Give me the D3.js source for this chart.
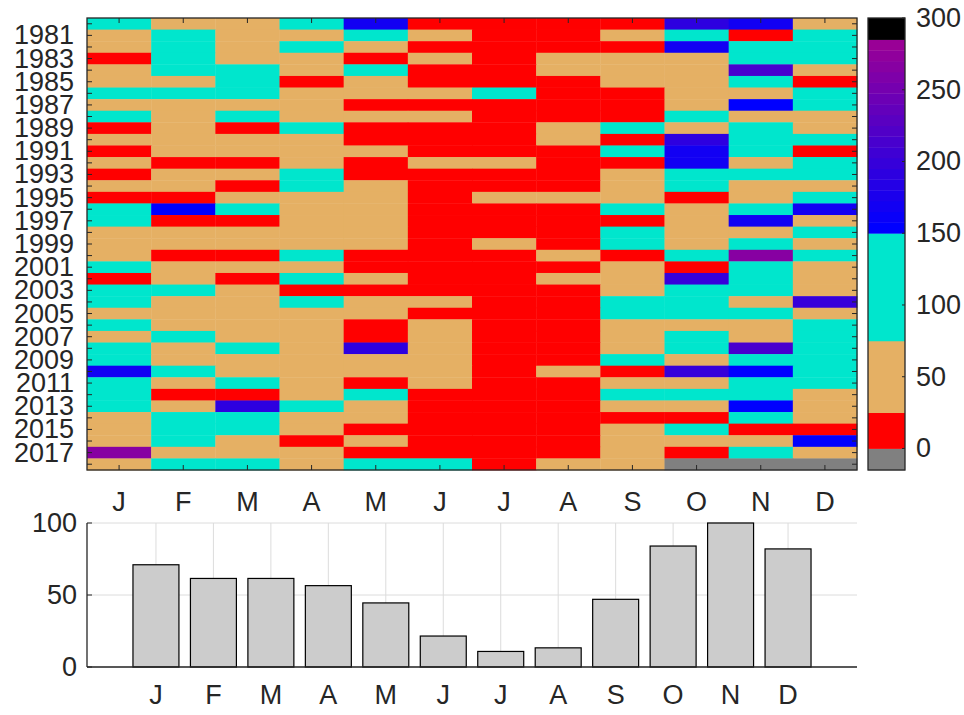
<!DOCTYPE html>
<html>
<head>
<meta charset="utf-8">
<script src="https://cdn.jsdelivr.net/npm/d3@7"></script>
<style>
  html, body { margin: 0; padding: 0; background: #fff; }
  svg { display: block; }
  text { font-family: "Liberation Sans", Arial, Helvetica, sans-serif; fill: #262626; }
</style>
</head>
<body>
<svg id="chart" width="964" height="715"></svg>
<script>
// Monthly rainfall per year (mm), January..December; null = no record
const years = d3.range(1980, 2019);
const months = ["J", "F", "M", "A", "M", "J", "J", "A", "S", "O", "N", "D"];
const yearLabels = [1981, 1983, 1985, 1987, 1989, 1991, 1993, 1995, 1997, 1999,
  2001, 2003, 2005, 2007, 2009, 2011, 2013, 2015, 2017];
const rainfall = [
  [110, 50, 50, 110, 168, 12, 12, 12, 12, 190, 168, 50],   // 1980
  [50, 110, 50, 50, 110, 50, 12, 12, 50, 110, 12, 110],    // 1981
  [50, 110, 50, 110, 50, 12, 12, 12, 12, 168, 110, 110],   // 1982
  [12, 110, 50, 50, 12, 50, 12, 50, 50, 50, 110, 110],     // 1983
  [50, 110, 110, 50, 110, 12, 12, 50, 50, 50, 215, 50],    // 1984
  [50, 50, 110, 12, 50, 12, 12, 12, 50, 50, 110, 12],      // 1985
  [110, 110, 110, 50, 50, 50, 110, 12, 12, 50, 50, 110],   // 1986
  [50, 50, 50, 50, 12, 12, 12, 12, 12, 50, 155, 110],      // 1987
  [110, 50, 110, 50, 50, 50, 12, 12, 12, 110, 50, 50],     // 1988
  [12, 50, 12, 110, 12, 12, 12, 50, 110, 50, 110, 50],     // 1989
  [50, 50, 50, 50, 12, 12, 12, 50, 12, 190, 110, 110],     // 1990
  [12, 50, 50, 50, 50, 12, 12, 12, 110, 168, 110, 12],     // 1991
  [50, 12, 12, 50, 12, 50, 50, 12, 12, 168, 50, 110],      // 1992
  [12, 50, 50, 110, 12, 12, 12, 12, 50, 110, 110, 110],    // 1993
  [50, 50, 12, 110, 50, 12, 12, 12, 50, 110, 50, 50],      // 1994
  [12, 12, 50, 50, 50, 12, 50, 50, 50, 12, 50, 110],       // 1995
  [110, 155, 110, 50, 50, 12, 12, 12, 110, 50, 110, 168],  // 1996
  [110, 12, 12, 50, 50, 12, 12, 12, 12, 50, 168, 50],      // 1997
  [50, 50, 50, 50, 50, 12, 12, 12, 110, 50, 50, 110],      // 1998
  [50, 50, 50, 50, 50, 12, 50, 12, 110, 50, 110, 50],      // 1999
  [50, 12, 12, 110, 12, 12, 12, 50, 12, 110, 265, 110],    // 2000
  [110, 50, 50, 50, 12, 12, 12, 12, 50, 12, 110, 50],      // 2001
  [12, 50, 12, 110, 50, 12, 12, 50, 50, 200, 110, 50],     // 2002
  [110, 110, 50, 12, 12, 12, 12, 12, 50, 110, 110, 50],    // 2003
  [110, 50, 50, 110, 50, 50, 12, 12, 110, 110, 50, 200],   // 2004
  [50, 50, 50, 50, 50, 12, 12, 12, 110, 110, 110, 50],     // 2005
  [110, 50, 50, 50, 12, 50, 12, 12, 50, 50, 50, 110],      // 2006
  [50, 110, 50, 50, 12, 50, 12, 12, 50, 110, 50, 110],     // 2007
  [110, 50, 110, 50, 190, 50, 12, 12, 50, 110, 215, 110],  // 2008
  [110, 50, 50, 50, 50, 50, 12, 12, 110, 50, 110, 110],    // 2009
  [168, 110, 50, 50, 50, 50, 12, 50, 12, 200, 155, 110],   // 2010
  [110, 50, 110, 50, 12, 50, 12, 12, 50, 50, 110, 110],    // 2011
  [110, 12, 12, 50, 110, 12, 12, 12, 110, 110, 110, 50],   // 2012
  [110, 50, 190, 110, 50, 12, 12, 12, 50, 50, 155, 50],    // 2013
  [50, 110, 110, 50, 50, 12, 12, 12, 12, 12, 110, 50],     // 2014
  [50, 110, 110, 50, 12, 12, 12, 12, 50, 110, 12, 12],     // 2015
  [50, 110, 50, 12, 50, 12, 12, 12, 50, 50, 50, 155],      // 2016
  [265, 50, 50, 50, 12, 12, 12, 12, 50, 12, 110, 50],      // 2017
  [50, 110, 110, 50, 110, 110, 12, 50, 50, null, null, null] // 2018
];
// Mean monthly rainfall (mm)
const monthlyMean = [71, 61.5, 61.5, 56.5, 44.5, 21.5, 10.8, 13.3, 47, 84, 100, 82];
const colorbarTicks = [0, 50, 100, 150, 200, 250, 300];
const barTicks = [0, 50, 100];

const svg = d3.select("#chart");
const FONT = 27;

// ---------- colour levels ----------
const purpleSteps = d3.range(150, 285, 7.5);            // 18 graded bands
const thresholds = [0, 25, 75].concat(purpleSteps, [285]);
const bandColors = purpleSteps.map((v, i) =>
  d3.interpolateRgb("rgb(0,0,255)", "rgb(153,0,150)")(i / (purpleSteps.length - 1)));
const levelColors = ["#808080", "#ff0000", "#e5b064", "#00e6cd"].concat(bandColors, ["#000000"]);
const color = d3.scaleThreshold().domain(thresholds).range(levelColors);
const fillOf = v => (v === null ? "#808080" : color(v));

// ---------- heat map ----------
const hm = { left: 87, right: 857, top: 18, bottom: 470 };
const x = d3.scaleBand().domain(d3.range(12)).range([hm.left, hm.right]);
const y = d3.scaleBand().domain(years).range([hm.top, hm.bottom]);

const cells = [];
rainfall.forEach((row, r) => row.forEach((v, m) => cells.push({ year: years[r], m, v })));

svg.append("g").selectAll("rect").data(cells).join("rect")
  .attr("x", d => x(d.m))
  .attr("y", d => y(d.year))
  .attr("width", x.bandwidth() + 0.4)
  .attr("height", y.bandwidth() + 0.4)
  .attr("fill", d => fillOf(d.v));

const frame = svg.append("g").attr("stroke", "#262626").attr("fill", "none");
frame.append("rect")
  .attr("x", hm.left).attr("y", hm.top)
  .attr("width", hm.right - hm.left).attr("height", hm.bottom - hm.top)
  .attr("stroke-width", 1.3);

// inward ticks: every year on both sides, every month top and bottom
years.forEach(yr => {
  const cy = y(yr) + y.bandwidth() / 2;
  frame.append("line").attr("x1", hm.left).attr("x2", hm.left + 5).attr("y1", cy).attr("y2", cy);
  frame.append("line").attr("x1", hm.right).attr("x2", hm.right - 5).attr("y1", cy).attr("y2", cy);
});
d3.range(12).forEach(m => {
  const cx = x(m) + x.bandwidth() / 2;
  frame.append("line").attr("x1", cx).attr("x2", cx).attr("y1", hm.top).attr("y2", hm.top + 5);
  frame.append("line").attr("x1", cx).attr("x2", cx).attr("y1", hm.bottom).attr("y2", hm.bottom - 5);
});

svg.append("g").selectAll("text").data(yearLabels).join("text")
  .attr("x", hm.left - 13)
  .attr("y", d => y(d) + y.bandwidth() / 2)
  .attr("text-anchor", "end")
  .attr("dominant-baseline", "central")
  .attr("font-size", FONT)
  .text(d => d);

svg.append("g").selectAll("text").data(months).join("text")
  .attr("x", (d, i) => x(i) + x.bandwidth() / 2)
  .attr("y", 502)
  .attr("text-anchor", "middle")
  .attr("dominant-baseline", "central")
  .attr("font-size", FONT)
  .text(d => d);

// ---------- colour bar ----------
const cb = { left: 868, right: 905 };
const cbScale = d3.scaleLinear().domain([-15, 300]).range([hm.bottom, hm.top]);
const edges = [-15].concat(thresholds, [300]);
const cbBands = levelColors.map((c, i) => ({ lo: edges[i], hi: edges[i + 1], c }));
svg.append("g").selectAll("rect").data(cbBands).join("rect")
  .attr("x", cb.left)
  .attr("y", d => cbScale(d.hi))
  .attr("width", cb.right - cb.left)
  .attr("height", d => cbScale(d.lo) - cbScale(d.hi) + 0.4)
  .attr("fill", d => d.c);
svg.append("rect")
  .attr("x", cb.left).attr("y", hm.top)
  .attr("width", cb.right - cb.left).attr("height", hm.bottom - hm.top)
  .attr("fill", "none").attr("stroke", "#262626").attr("stroke-width", 1.3);
const cbAxis = svg.append("g");
colorbarTicks.forEach(t => {
  cbAxis.append("line")
    .attr("x1", cb.right).attr("x2", cb.right - 3)
    .attr("y1", cbScale(t)).attr("y2", cbScale(t))
    .attr("stroke", "#262626");
  cbAxis.append("text")
    .attr("x", cb.right + 11)
    .attr("y", cbScale(t))
    .attr("dominant-baseline", "central")
    .attr("font-size", FONT)
    .text(t);
});

// ---------- monthly mean bars ----------
const bp = { left: 87, right: 857, top: 523, bottom: 667 };
const bx = d3.scaleLinear().domain([-0.2, 13.2]).range([bp.left, bp.right]);
const by = d3.scaleLinear().domain([0, 100]).range([bp.bottom, bp.top]);
const grid = svg.append("g").attr("stroke", "#dcdcdc").attr("stroke-width", 1);
d3.range(1, 13).forEach(m => {
  grid.append("line").attr("x1", bx(m)).attr("x2", bx(m)).attr("y1", bp.top).attr("y2", bp.bottom);
});
barTicks.forEach(t => {
  grid.append("line").attr("x1", bp.left).attr("x2", bp.right).attr("y1", by(t)).attr("y2", by(t));
});

const barW = bx(0.8) - bx(0);
svg.append("g").selectAll("rect").data(monthlyMean).join("rect")
  .attr("x", (d, i) => bx(i + 1) - barW / 2)
  .attr("y", d => by(d))
  .attr("width", barW)
  .attr("height", d => by(0) - by(d))
  .attr("fill", "#cccccc")
  .attr("stroke", "#000")
  .attr("stroke-width", 1.2);

const baxis = svg.append("g").attr("stroke", "#262626");
baxis.append("line").attr("x1", bp.left).attr("x2", bp.right).attr("y1", bp.bottom).attr("y2", bp.bottom).attr("stroke-width", 1.3);
baxis.append("line").attr("x1", bp.left).attr("x2", bp.left).attr("y1", bp.top).attr("y2", bp.bottom).attr("stroke-width", 1.3);
barTicks.forEach(t => {
  baxis.append("line").attr("x1", bp.left).attr("x2", bp.left + 5).attr("y1", by(t)).attr("y2", by(t));
});

svg.append("g").selectAll("text").data(barTicks).join("text")
  .attr("x", bp.left - 10)
  .attr("y", d => by(d))
  .attr("text-anchor", "end")
  .attr("dominant-baseline", "central")
  .attr("font-size", FONT)
  .text(d => d);

svg.append("g").selectAll("text").data(months).join("text")
  .attr("x", (d, i) => bx(i + 1))
  .attr("y", 695)
  .attr("text-anchor", "middle")
  .attr("dominant-baseline", "central")
  .attr("font-size", FONT)
  .text(d => d);
</script>
</body>
</html>
